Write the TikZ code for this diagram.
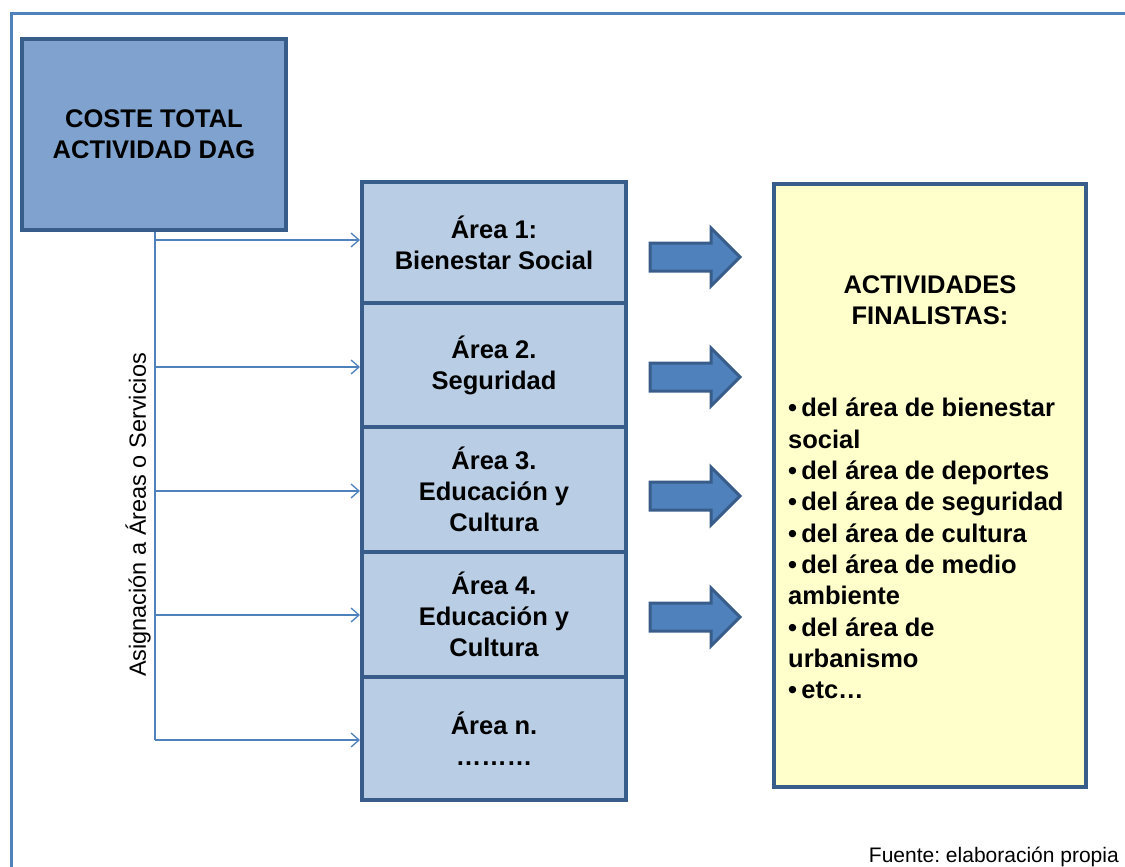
\documentclass[tikz,border=0pt]{standalone}
\usepackage{fontspec}
\setmainfont{Liberation Sans}
\frenchspacing
\usetikzlibrary{arrows.meta}
\definecolor{frameblue}{RGB}{79,129,189}
\definecolor{darkblue}{RGB}{56,93,138}
\definecolor{costefill}{RGB}{127,163,206}
\definecolor{areafill}{RGB}{185,205,229}
\definecolor{yellowfill}{RGB}{255,255,204}
\tikzset{
  box/.style={draw=darkblue, line width=4pt, inner sep=0pt, align=center,
    font=\fontsize{25.5}{31}\selectfont\bfseries},
  costebox/.style={box, fill=costefill, minimum width=264, minimum height=191},
  areabox/.style={box, fill=areafill, minimum width=264},
  conn/.style={draw=frameblue, line width=1.3pt, -{Straight Barb[length=8pt,width=14pt,line width=1.3pt]}},
  trunk/.style={draw=frameblue, line width=1.3pt},
  barrow/.style={draw=darkblue, fill=frameblue, line width=3pt, line join=miter},
}
\begin{document}
\begin{tikzpicture}[x=1pt,y=-1pt]
\clip (0,0) rectangle (1125,867);
\fill[white] (0,0) rectangle (1125,867);
\draw[frameblue, line width=3pt] (11.5,13.5) rectangle (1160,900);

\node[costebox] (coste) at (154,134.5) {COSTE TOTAL\\ACTIVIDAD DAG};

\node[areabox, minimum height=121] (a1) at (494,242.5) {Área 1:\\Bienestar Social};
\node[areabox, minimum height=124] (a2) at (494,365) {Área 2.\\Seguridad};
\node[areabox, minimum height=125] (a3) at (494,489.5) {Área 3.\\Educación y\\Cultura};
\node[areabox, minimum height=125] (a4) at (494,614.5) {Área 4.\\Educación y\\Cultura};
\node[areabox, minimum height=123] (a5) at (494,738.5) {Área n.\\………};

\node[draw=darkblue, line width=4pt, fill=yellowfill, minimum width=312, minimum height=603, inner sep=0pt] (fin) at (930,485.5) {};
\node[font=\fontsize{25.5}{31}\selectfont\bfseries, align=center, inner sep=0pt] (fintitle) at (930,300) {ACTIVIDADES\\FINALISTAS:};
\node[font=\fontsize{25.5}{31.3}\selectfont\bfseries, align=left, inner sep=0pt, anchor=north west] (finlist) at (788,398)
 {•\,del área de bienestar\\social\\•\,del área de deportes\\•\,del área de seguridad\\•\,del área de cultura\\•\,del área de medio\\ambiente\\•\,del área de\\urbanismo\\•\,etc…};

\coordinate (t1) at (155,240);
\coordinate (t2) at (155,367);
\coordinate (t3) at (155,491);
\coordinate (t4) at (155,615);
\coordinate (t5) at (155,740);
\draw[trunk] (coste.south -| t1) -- (t5);
\draw[conn] (t1) -- (a1.west |- t1);
\draw[conn] (t2) -- (a2.west |- t2);
\draw[conn] (t3) -- (a3.west |- t3);
\draw[conn] (t4) -- (a4.west |- t4);
\draw[conn] (t5) -- (a5.west |- t5);

\node[rotate=90, font=\fontsize{23.5}{27}\selectfont, inner sep=0pt] (asig) at (138,515) {Asignación a Áreas o Servicios};

\foreach \y in {257,377,496,617}
  \draw[barrow] (650,\y-14) -- (711,\y-14) -- (711,\y-29) -- (740,\y) -- (711,\y+29) -- (711,\y+14) -- (650,\y+14) -- cycle;

\node[font=\fontsize{21}{25}\selectfont, anchor=base east, inner sep=0pt] (fuente) at (1119,862) {Fuente: elaboración propia};
\end{tikzpicture}
\end{document}
